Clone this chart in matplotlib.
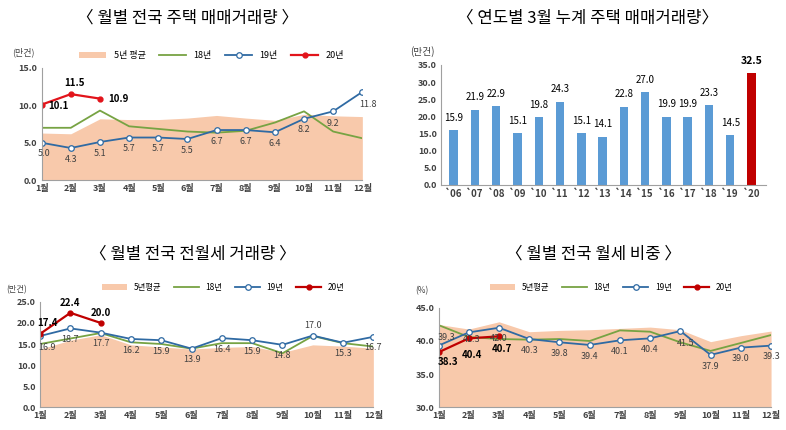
import matplotlib.pyplot as plt
import numpy as np

plt.rcParams['font.family'] = ['Noto Sans CJK KR', 'DejaVu Sans']

months = ['1월', '2월', '3월', '4월', '5월', '6월', '7월', '8월', '9월', '10월', '11월', '12월']

# 월별 전국 주택 매매거래량 (만건)
sale_avg5 = [6.3, 6.2, 8.2, 8.1, 8.1, 8.3, 8.65, 8.3, 8.0, 8.8, 8.6, 8.5]
sale_18 = [7.0, 7.0, 9.3, 7.2, 6.85, 6.5, 6.35, 6.6, 7.7, 9.2, 6.5, 5.6]
sale_19 = [5.0, 4.3, 5.1, 5.7, 5.7, 5.5, 6.7, 6.7, 6.4, 8.2, 9.2, 11.8]
sale_20 = [10.1, 11.5, 10.9]

# 연도별 3월 누계 주택 매매거래량 (만건)
years = ['`06', '`07', '`08', '`09', '`10', '`11', '`12', '`13', '`14', '`15',
         '`16', '`17', '`18', '`19', '`20']
march_total = [15.9, 21.9, 22.9, 15.1, 19.8, 24.3, 15.1, 14.1, 22.8, 27.0,
               19.9, 19.9, 23.3, 14.5, 32.5]

# 월별 전국 전월세 거래량 (만건)
rent_avg5 = [13.8, 15.9, 17.2, 14.8, 14.3, 13.8, 14.2, 14.4, 13.0, 14.8, 14.5, 14.0]
rent_18 = [15.0, 16.3, 17.6, 15.4, 15.0, 13.9, 15.2, 15.2, 12.8, 16.9, 15.2, 14.4]
rent_19 = [16.9, 18.7, 17.7, 16.2, 15.9, 13.9, 16.4, 15.9, 14.8, 17.0, 15.3, 16.7]
rent_20 = [17.4, 22.4, 20.0]

# 월별 전국 월세 비중 (%)
monthly_avg5 = [42.5, 41.8, 42.9, 41.4, 41.6, 41.7, 41.9, 42.1, 41.7, 39.9, 40.8, 41.5]
monthly_18 = [42.4, 40.6, 40.3, 40.2, 40.3, 40.0, 41.6, 41.4, 39.8, 38.5, 39.7, 40.9]
monthly_19 = [39.3, 41.3, 42.0, 40.3, 39.8, 39.4, 40.1, 40.4, 41.5, 37.9, 39.0, 39.3]
monthly_20 = [38.3, 40.4, 40.7]

AREA = '#F8C9AB'
GREEN = '#77A343'
BLUE = '#2F6AA3'
TICK = '#404040'

fig = plt.figure(figsize=(7.86, 4.30), dpi=100)


def style_axes(ax):
    for s in ['top', 'right']:
        ax.spines[s].set_visible(False)
    for s in ['left', 'bottom']:
        ax.spines[s].set_color('#A0A0A0')
        ax.spines[s].set_linewidth(0.8)
    ax.tick_params(axis='both', labelsize=6.5, colors=TICK, length=0, pad=3)
    for lbl in ax.get_xticklabels() + ax.get_yticklabels():
        lbl.set_fontweight('bold')


def line_panel(ax, avg5, y18, y19, y20, red, ylim, yticks, avg_label, off19, off20):
    x = np.arange(12)
    ax.fill_between(x, ylim[0], avg5, color=AREA, lw=0, label=avg_label)
    ax.plot(x, y18, color=GREEN, lw=1.3, label='18년')
    ax.plot(x, y19, color=BLUE, lw=1.3, marker='o', ms=4, mfc='white',
            mec=BLUE, mew=0.9, label='19년')
    ax.plot(np.arange(len(y20)), y20, color=red, lw=1.6, marker='o', ms=3.5,
            label='20년')
    for i, v in enumerate(y19):
        dx, dy = off19.get(i, (0, -8))
        ax.annotate(f'{v:.1f}', (i, v), xytext=(dx, dy), textcoords='offset points',
                    ha='center', va='center', fontsize=6.5, color='#404040')
    for i, v in enumerate(y20):
        dx, dy = off20[i]
        ax.annotate(f'{v:.1f}', (i, v), xytext=(dx, dy), textcoords='offset points',
                    ha='center', va='center', fontsize=7, color='black',
                    fontweight='bold')
    ax.set_xlim(0, 11)
    ax.set_ylim(*ylim)
    ax.set_yticks(yticks)
    ax.set_yticklabels([f'{t:.1f}' for t in yticks])
    ax.set_xticks(x)
    ax.set_xticklabels(months)
    style_axes(ax)


# 1) 월별 전국 주택 매매거래량
ax1 = fig.add_axes([0.053, 0.581, 0.408, 0.261])
line_panel(ax1, sale_avg5, sale_18, sale_19, sale_20, '#E2141B',
           (0, 15), [0, 5, 10, 15], '5년 평균',
           {0: (2, -8), 10: (0, -9), 11: (4, -9)},
           [(12, -1), (3, 8), (13, 0)])
ax1.legend(loc='lower center', bbox_to_anchor=(0.53, 1.04), ncol=4, frameon=False,
           fontsize=6.5, handlelength=3, columnspacing=1.5, borderaxespad=0)
fig.text(0.015, 0.872, '(만건)', fontsize=6.5, color=TICK)

# 2) 연도별 3월 누계 주택 매매거래량
ax2 = fig.add_axes([0.561, 0.570, 0.414, 0.279])
xb = np.arange(len(years))
colors = ['#5B9BD5'] * (len(years) - 1) + ['#C00000']
ax2.bar(xb, march_total, width=0.4, color=colors)
for i, v in enumerate(march_total):
    last = i == len(years) - 1
    ax2.annotate(f'{v:.1f}', (i, v), xytext=(0, 9), textcoords='offset points',
                 ha='center', va='center', fontsize=7.5 if last else 7,
                 color='black', fontweight='bold' if last else 'normal')
ax2.set_xlim(-0.6, len(years) - 0.3)
ax2.set_ylim(0, 35)
ax2.set_yticks(np.arange(0, 36, 5))
ax2.set_yticklabels([f'{t:.1f}' for t in np.arange(0, 36, 5)])
ax2.set_xticks(xb)
ax2.set_xticklabels(years)
style_axes(ax2)
ax2.tick_params(axis='x', labelsize=7)
fig.text(0.522, 0.872, '(만건)', fontsize=7, color=TICK)

# 3) 월별 전국 전월세 거래량
ax3 = fig.add_axes([0.051, 0.053, 0.424, 0.245])
line_panel(ax3, rent_avg5, rent_18, rent_19, rent_20, '#C00000',
           (0, 25), [0, 5, 10, 15, 20, 25], '5년평균',
           {0: (5, -8), 9: (0, 7)},
           [(5, 8), (0, 7), (0, 7)])
ax3.legend(loc='lower center', bbox_to_anchor=(0.55, 1.06), ncol=4, frameon=False,
           fontsize=6, handlelength=3, columnspacing=1.5, borderaxespad=0)
fig.text(0.008, 0.32, '(만건)', fontsize=6, color=TICK)

# 4) 월별 전국 월세 비중
ax4 = fig.add_axes([0.558, 0.053, 0.423, 0.231])
line_panel(ax4, monthly_avg5, monthly_18, monthly_19, monthly_20, '#C00000',
           (30, 45), [30, 35, 40, 45], '5년평균',
           {0: (6, 6), 1: (2, -5), 8: (4, -9)},
           [(7, -7), (2, -12), (2, -9)])
ax4.legend(loc='lower center', bbox_to_anchor=(0.52, 1.13), ncol=4, frameon=False,
           fontsize=6, handlelength=3, columnspacing=1.5, borderaxespad=0)
fig.text(0.528, 0.318, '(%)', fontsize=6, color=TICK)

# titles
fig.text(0.238, 0.958, '〈 월별 전국 주택 매매거래량 〉', fontsize=12, ha='center', va='center')
fig.text(0.747, 0.958, '〈 연도별 3월 누계 주택 매매거래량〉', fontsize=12, ha='center', va='center')
fig.text(0.245, 0.41, '〈 월별 전국 전월세 거래량 〉', fontsize=12, ha='center', va='center')
fig.text(0.755, 0.41, '〈 월별 전국 월세 비중 〉', fontsize=12, ha='center', va='center')

fig.savefig('out.png', dpi=100)
